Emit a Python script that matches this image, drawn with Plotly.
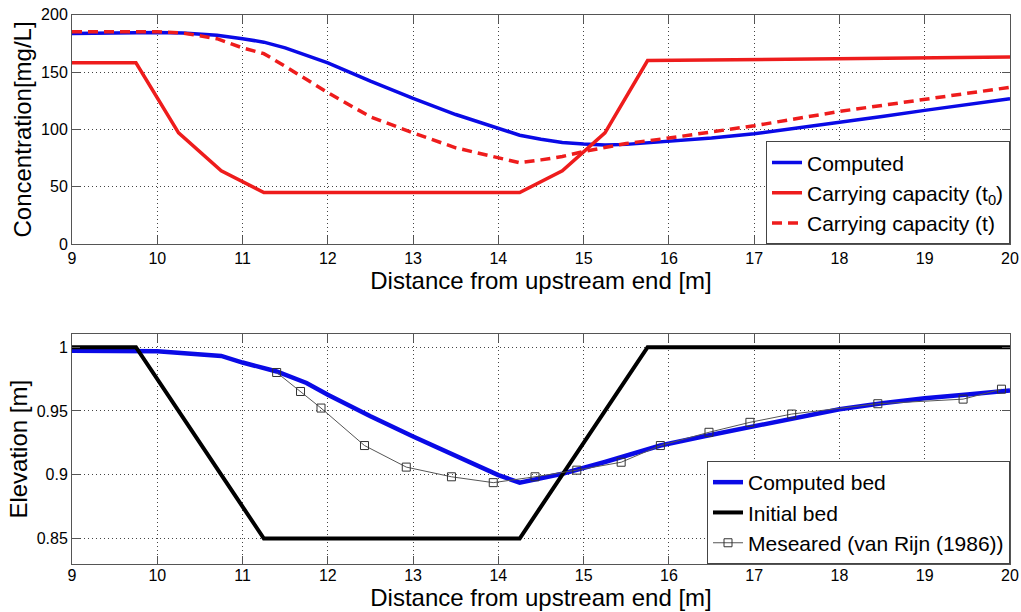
import plotly.graph_objects as go

# ---------------- data ----------------
# Top panel: concentration [mg/L]
x_comp = [9, 9.5, 10, 10.3, 10.7, 11, 11.25, 11.5, 12, 12.5, 13, 13.5, 14, 14.25,
          14.5, 14.75, 15, 15.25, 15.5, 16, 16.5, 17, 17.5, 18, 18.5, 19, 19.5, 20]
conc_comp = [183.5, 184, 184.5, 184, 182, 179, 176, 171, 158, 142, 127, 113, 100.6, 95,
             91.5, 88.7, 87.3, 86.5, 87, 89.5, 92.5, 96.2, 101, 106, 111.3, 116.6, 121.7, 126.8]

x_cc0 = [9, 9.75, 10.25, 10.75, 11.25, 14.25, 14.75, 15.25, 15.75, 20]
cc0 = [158, 158, 97, 64, 45, 45, 64, 97, 160, 163]

x_cct = [9, 9.5, 10, 10.3, 10.7, 11, 11.25, 11.5, 12, 12.5, 13, 13.5, 14, 14.25,
         14.5, 14.75, 15, 15.25, 15.5, 16, 17, 18, 19, 20]
cct = [185, 185, 185, 184, 179, 171, 166, 155, 132, 111, 97, 84, 75, 71,
       73.5, 76.4, 80.8, 84, 87.8, 92.5, 103.2, 115.7, 126.5, 136.7]

# Bottom panel: elevation [m]
x_bed = [9, 10, 10.75, 11, 11.4, 11.75, 12, 12.5, 13, 13.5, 14, 14.25, 14.75, 15.25,
         15.9, 16.4, 17, 17.5, 18, 18.5, 19, 19.5, 20]
bed = [0.9973, 0.9968, 0.9932, 0.988, 0.981, 0.972, 0.9627, 0.9458, 0.930, 0.9145, 0.8997,
       0.8938, 0.9008, 0.9100, 0.9229, 0.930, 0.938, 0.945, 0.9514, 0.956, 0.960, 0.963, 0.9661]

x_bed0 = [9, 9.75, 11.25, 14.25, 15.75, 20]
bed0 = [1, 1, 0.85, 0.85, 1, 1]

x_meas = [11.4, 11.68, 11.92, 12.43, 12.92, 13.45, 13.94, 14.43, 14.92, 15.44, 15.9,
          16.47, 16.95, 17.44, 18.45, 19.45, 19.9]
meas = [0.9802, 0.9653, 0.9523, 0.9229, 0.906, 0.8984, 0.8938, 0.8984, 0.9036, 0.9098,
        0.9229, 0.9333, 0.9411, 0.9476, 0.9557, 0.9593, 0.9671]

x_ticks = list(range(9, 21))
conc_ticks = [0, 50, 100, 150, 200]
elev_ticks = [0.85, 0.9, 0.95, 1.0]
elev_ticktext = ["0.85", "0.9", "0.95", "1"]

# ---------------- figure ----------------
BLUE = "#0a0ae6"
RED = "#ee1c1c"
FONT = "Liberation Sans, Arial, sans-serif"

fig = go.Figure()

fig.add_trace(go.Scatter(x=x_comp, y=conc_comp, mode="lines", name="Computed",
                         line=dict(color=BLUE, width=3.5), xaxis="x", yaxis="y",
                         legend="legend"))
fig.add_trace(go.Scatter(x=x_cc0, y=cc0, mode="lines", name="Carrying capacity (t<sub>0</sub>)",
                         line=dict(color=RED, width=3.5), xaxis="x", yaxis="y",
                         legend="legend"))
fig.add_trace(go.Scatter(x=x_cct, y=cct, mode="lines", name="Carrying capacity (t)",
                         line=dict(color=RED, width=3.5, dash="10px,6px"), xaxis="x", yaxis="y",
                         legend="legend"))

fig.add_trace(go.Scatter(x=x_bed, y=bed, mode="lines", name="Computed bed",
                         line=dict(color=BLUE, width=4.5), xaxis="x2", yaxis="y2",
                         legend="legend2"))
fig.add_trace(go.Scatter(x=x_bed0, y=bed0, mode="lines", name="Initial bed",
                         line=dict(color="black", width=4), xaxis="x2", yaxis="y2",
                         legend="legend2"))
fig.add_trace(go.Scatter(x=x_meas, y=meas, mode="lines+markers",
                         name="Meseared (van Rijn (1986))",
                         line=dict(color="#555555", width=1),
                         marker=dict(symbol="square-open", size=8, color="#333333",
                                     line=dict(width=1)),
                         xaxis="x2", yaxis="y2", legend="legend2"))

axis_common = dict(
    showline=True, linecolor="#555555", linewidth=1, mirror="ticks",
    ticks="inside", ticklen=8, tickcolor="#555555", tickwidth=1,
    showgrid=True, gridcolor="#444444", gridwidth=1, griddash="1px,3px",
    zeroline=False, automargin=False,
    tickfont=dict(family=FONT, size=16, color="black"),
)

title_font = dict(family=FONT, size=24, color="black")

fig.update_layout(
    width=1021, height=612,
    margin=dict(l=72, r=11, t=14, b=48, autoexpand=False),
    paper_bgcolor="white", plot_bgcolor="white",
    font=dict(family=FONT, color="black"),
    xaxis=dict(domain=[0, 1], range=[9, 20], tickvals=x_ticks, anchor="y",
               title=dict(text="Distance from upstream end [m]", font=title_font, standoff=3),
               **axis_common),
    yaxis=dict(domain=[0.5813, 0.9989], range=[0, 200], tickvals=conc_ticks, anchor="x",
               title=dict(text="Concentration[mg/L]", font=title_font, standoff=2),
               **axis_common),
    xaxis2=dict(domain=[0, 1], range=[9, 20], tickvals=x_ticks, anchor="y2",
                ticklabelstandoff=-3,
                title=dict(text="Distance from upstream end [m]", font=title_font, standoff=4),
                **axis_common),
    yaxis2=dict(domain=[0, 0.4173], range=[0.83, 1.01], tickvals=elev_ticks,
                ticktext=elev_ticktext, anchor="x2",
                title=dict(text="Elevation [m]", font=title_font, standoff=2),
                **axis_common),
    legend=dict(x=1.0, y=0.5813, xanchor="right", yanchor="bottom",
                bgcolor="white", bordercolor="#444444", borderwidth=1,
                font=dict(family=FONT, size=21, color="black"), tracegroupgap=0),
    legend2=dict(x=1.0, y=0, xanchor="right", yanchor="bottom",
                 bgcolor="white", bordercolor="#444444", borderwidth=1,
                 font=dict(family=FONT, size=21, color="black"), tracegroupgap=0),
)

fig.write_html("out.html")
